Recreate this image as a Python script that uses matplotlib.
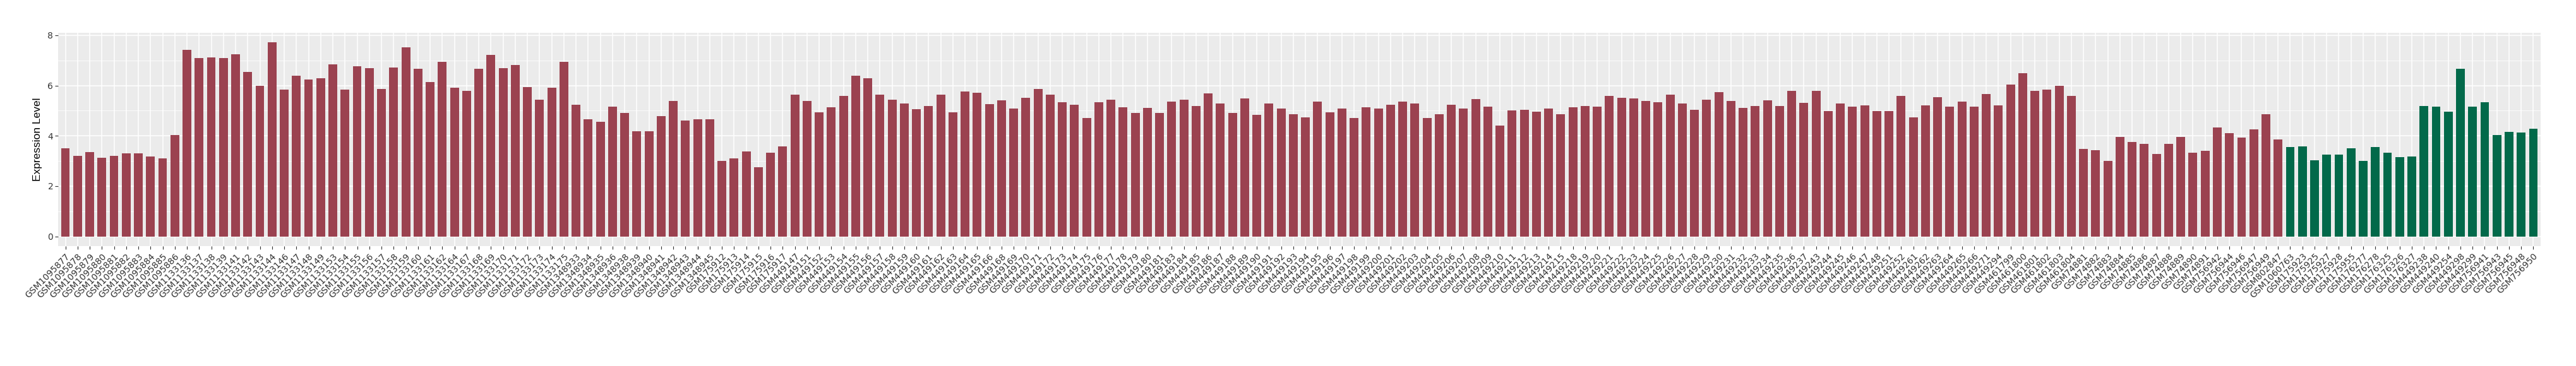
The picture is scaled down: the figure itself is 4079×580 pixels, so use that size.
import numpy as np
import matplotlib
matplotlib.use('Agg')
import matplotlib.pyplot as plt
from matplotlib.ticker import MultipleLocator

# sample ids (prefix "GSM") and expression values
red_ids = [
    1095877, 1095878, 1095879, 1095880, 1095881, 1095882, 1095883, 1095884, 1095885, 1095886,
    1133136, 1133137, 1133138, 1133139, 1133141, 1133142, 1133143, 1133144, 1133146, 1133147,
    1133148, 1133149, 1133153, 1133154, 1133155, 1133156, 1133157, 1133158, 1133159, 1133160,
    1133161, 1133162, 1133164, 1133167, 1133168, 1133169, 1133170, 1133171, 1133172, 1133173,
    1133174, 1133175,
    1348933, 1348934, 1348935, 1348936, 1348938, 1348939, 1348940, 1348941, 1348942, 1348943,
    1348944, 1348945,
    175912, 175913, 175914, 175915, 175916, 175917,
    449147, 449151, 449152, 449153, 449154, 449155, 449156, 449157, 449158, 449159,
    449160, 449161, 449162, 449163, 449164, 449165, 449166, 449168, 449169, 449170,
    449171, 449172, 449173, 449174, 449175, 449176, 449177, 449178, 449179, 449180,
    449181, 449183, 449184, 449185, 449186, 449187, 449188, 449189, 449190, 449191,
    449192, 449193, 449194, 449195, 449196, 449197, 449198, 449199, 449200, 449201,
    449202, 449203, 449204, 449205, 449206, 449207, 449208, 449209, 449210, 449211,
    449212, 449213, 449214, 449215, 449218, 449219, 449220, 449221, 449222, 449223,
    449224, 449225, 449226, 449227, 449228, 449229, 449230, 449231, 449232, 449233,
    449234, 449235, 449236, 449237, 449243, 449244, 449245, 449246, 449247, 449248,
    449251, 449252, 449261, 449262, 449263, 449264, 449265, 449266, 449271, 449294,
    461799, 461800, 461801, 461802, 461803, 461804,
    74881, 74882, 74883, 74884, 74885, 74886, 74887, 74888, 74889, 74890, 74891,
    756942, 756944, 756946, 756947, 756949,
    802847,
]
red_values = [
    3.50, 3.21, 3.36, 3.14, 3.21, 3.30, 3.30, 3.19, 3.10, 4.02,
    7.43, 7.09, 7.11, 7.09, 7.25, 6.53, 6.00, 7.72, 5.85, 6.39,
    6.24, 6.30, 6.84, 5.85, 6.77, 6.69, 5.87, 6.73, 7.52, 6.66,
    6.14, 6.95, 5.92, 5.78, 6.66, 7.22, 6.69, 6.82, 5.93, 5.44,
    5.92, 6.95,
    5.24, 4.65, 4.56, 5.17, 4.92, 4.18, 4.18, 4.78, 5.38, 4.61,
    4.67, 4.67,
    3.01, 3.11, 3.39, 2.75, 3.32, 3.59,
    5.64, 5.39, 4.94, 5.13, 5.58, 6.39, 6.30, 5.64, 5.44, 5.28,
    5.06, 5.19, 5.64, 4.94, 5.76, 5.71, 5.26, 5.42, 5.08, 5.51,
    5.87, 5.64, 5.33, 5.24, 4.70, 5.33, 5.44, 5.13, 4.90, 5.10,
    4.90, 5.35, 5.44, 5.19, 5.69, 5.28, 4.92, 5.48, 4.83, 5.28,
    5.08, 4.87, 4.74, 5.35, 4.94, 5.08, 4.72, 5.13, 5.08, 5.24,
    5.35, 5.28, 4.72, 4.87, 5.24, 5.08, 5.47, 5.17, 4.42, 5.02,
    5.03, 4.97, 5.08, 4.86, 5.13, 5.19, 5.15, 5.60, 5.51, 5.48,
    5.39, 5.33, 5.63, 5.28, 5.03, 5.44, 5.73, 5.38, 5.10, 5.19,
    5.42, 5.19, 5.80, 5.31, 5.78, 4.99, 5.28, 5.17, 5.22, 4.99,
    4.99, 5.58, 4.74, 5.22, 5.53, 5.17, 5.35, 5.17, 5.67, 5.22,
    6.05, 6.50, 5.78, 5.85, 6.00, 5.60,
    3.48, 3.43, 3.01, 3.95, 3.75, 3.68, 3.27, 3.68, 3.95, 3.32, 3.41,
    4.33, 4.11, 3.93, 4.25, 4.86,
    3.86,
]
green_ids = [
    1060763, 175923, 175925, 175927, 175928, 175955, 176277, 176278, 176325, 176326,
    176327, 449238, 449240, 449254, 449298, 449299, 756941, 756943, 756945, 756948,
    756950,
]
green_values = [
    3.55, 3.57, 3.03, 3.26, 3.26, 3.50, 3.01, 3.55, 3.32, 3.16,
    3.19, 5.19, 5.15, 4.97, 6.66, 5.15, 5.33, 4.04, 4.16, 4.13,
    4.29,
]

RED = '#9B4250'
GREEN = '#02694A'

labels = ['GSM%d' % i for i in red_ids + green_ids]
values = red_values + green_values
colors = [RED] * len(red_values) + [GREEN] * len(green_values)
x = np.arange(len(values))

fig = plt.figure(figsize=(40.8, 5.8), dpi=100)
ax = fig.add_axes([92 / 4080, 1 - 390 / 580, (4023 - 92) / 4080, (390 - 51.7) / 580])
ax.set_facecolor('#EBEBEB')

ax.bar(x, values, width=0.72, color=colors, zorder=2)

ax.set_xlim(-0.6, len(values) - 0.4)
ax.set_ylim(-0.386, 8.106)
ax.yaxis.set_major_locator(MultipleLocator(2))
ax.yaxis.set_minor_locator(MultipleLocator(1))
ax.grid(which='major', axis='both', color='white', linewidth=1.1, zorder=0)
ax.grid(which='minor', axis='y', color='white', linewidth=0.55, zorder=0)
ax.set_axisbelow(True)
for s in ax.spines.values():
    s.set_visible(False)

ax.set_xticks(x)
ax.set_xticklabels(labels, rotation=45, ha='right', va='top', rotation_mode='anchor',
                   fontsize=10, color='#333333')
ax.tick_params(axis='x', length=3.5, width=0.8, color='#333333', pad=3)
ax.tick_params(axis='y', which='major', length=3.5, width=0.8, color='#333333',
               labelsize=10, labelcolor='#333333', pad=2)
ax.tick_params(axis='y', which='minor', length=0)

ax.set_ylabel('Expression Level', fontsize=12.5, family='Liberation Sans', labelpad=6)

fig.savefig('out.png', dpi=100)
